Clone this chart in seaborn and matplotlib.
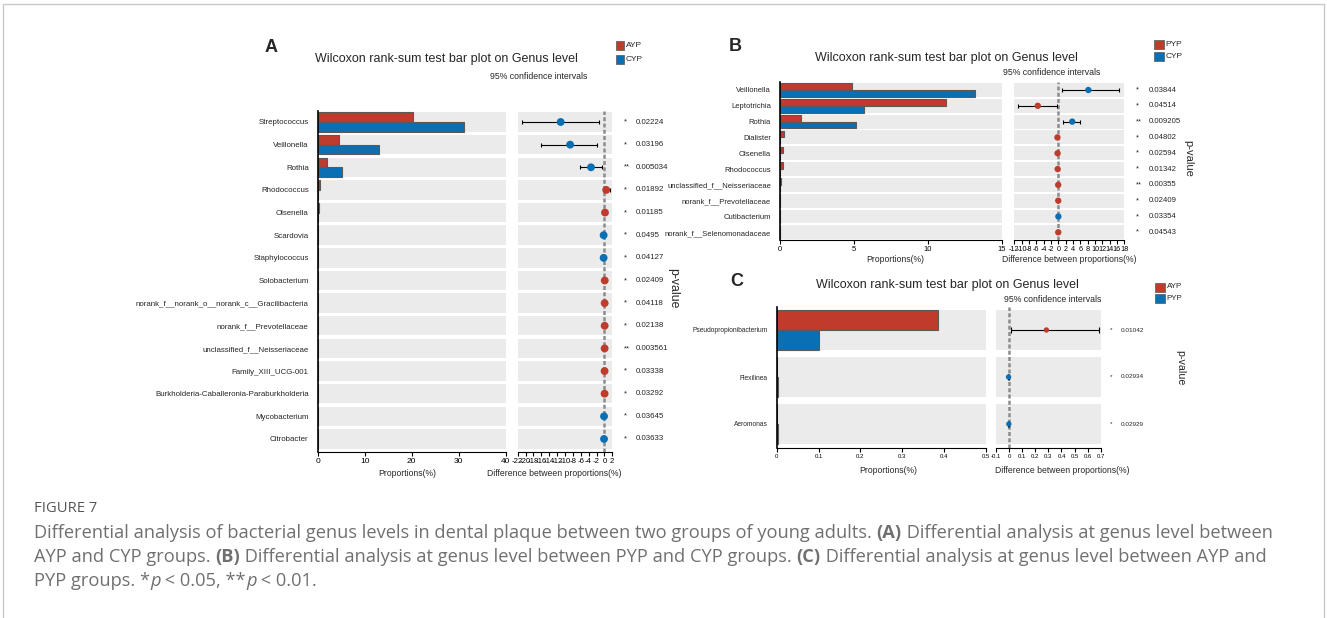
import numpy as np
import pandas as pd
import matplotlib
matplotlib.use("Agg")
import matplotlib.pyplot as plt
import matplotlib.transforms as mtrans
from matplotlib.patches import Rectangle
import seaborn as sns

# ---------------- data ----------------
a_genus = ["Streptococcus", "Veillonella", "Rothia", "Rhodococcus", "Olsenella", "Scardovia",
           "Staphylococcus", "Solobacterium", "norank_f__norank_o__norank_c__Gracilibacteria",
           "norank_f__Prevotellaceae", "unclassified_f__Neisseriaceae", "Family_XIII_UCG-001",
           "Burkholderia-Caballeronia-Paraburkholderia", "Mycobacterium", "Citrobacter"]
a_groups = ["AYP", "CYP"]
a_g1 = [20.2, 4.5, 1.9, 0.5, 0.3, 0.02, 0.02, 0.08, 0.05, 0.06, 0.05, 0.04, 0.04, 0.01, 0.01]
a_g2 = [31.2, 13.1, 5.15, 0.02, 0.05, 0.12, 0.10, 0.02, 0.01, 0.01, 0.01, 0.01, 0.01, 0.05, 0.04]
a_diff = [-11.1, -8.7, -3.4, 0.45, 0.15, -0.2, -0.2, 0.08, 0.06, 0.06, 0.05, 0.04, 0.04, -0.1, -0.1]
a_lo = [-20.8, -16.2, -6.1, -0.2, 0.0, -0.3, -0.3, 0.0, 0.0, 0.0, 0.0, 0.0, 0.0, -0.15, -0.15]
a_hi = [-1.3, -2.0, -0.7, 1.4, 0.3, -0.1, -0.1, 0.15, 0.1, 0.1, 0.1, 0.08, 0.08, -0.05, -0.05]
a_enriched = ["CYP", "CYP", "CYP", "AYP", "AYP", "CYP", "CYP", "AYP", "AYP", "AYP", "AYP", "AYP",
              "AYP", "CYP", "CYP"]
a_p = ["0.02224", "0.03196", "0.005034", "0.01892", "0.01185", "0.0495", "0.04127", "0.02409",
       "0.04118", "0.02138", "0.003561", "0.03338", "0.03292", "0.03645", "0.03633"]
a_star = ["*", "*", "**", "*", "*", "*", "*", "*", "*", "*", "**", "*", "*", "*", "*"]

b_genus = ["Veillonella", "Leptotrichia", "Rothia", "Dialister", "Olsenella", "Rhodococcus",
           "unclassified_f__Neisseriaceae", "norank_f__Prevotellaceae", "Cutibacterium",
           "norank_f__Selenomonadaceae"]
b_groups = ["PYP", "CYP"]
b_g1 = [4.9, 11.2, 1.4, 0.25, 0.22, 0.18, 0.04, 0.03, 0.01, 0.02]
b_g2 = [13.2, 5.7, 5.15, 0.01, 0.01, 0.01, 0.01, 0.01, 0.03, 0.005]
b_diff = [8.2, -5.6, 3.8, -0.24, -0.2, -0.17, -0.03, -0.02, 0.02, -0.015]
b_lo = [1.1, -11.0, 1.4, -0.35, -0.3, -0.25, -0.05, -0.04, 0.0, -0.03]
b_hi = [16.6, -0.3, 6.0, -0.12, -0.1, -0.08, 0.0, 0.0, 0.04, 0.0]
b_enriched = ["CYP", "PYP", "CYP", "PYP", "PYP", "PYP", "PYP", "PYP", "CYP", "PYP"]
b_p = ["0.03844", "0.04514", "0.009205", "0.04802", "0.02594", "0.01342", "0.00355", "0.02409",
       "0.03354", "0.04543"]
b_star = ["*", "*", "**", "*", "*", "*", "**", "*", "*", "*"]

c_genus = ["Pseudopropionibacterium", "Flexilinea", "Aeromonas"]
c_groups = ["AYP", "PYP"]
c_g1 = [0.385, 0.0, 0.0]
c_g2 = [0.1005, 0.004, 0.002]
c_diff = [0.285, -0.004, -0.002]
c_lo = [0.013, -0.008, -0.005]
c_hi = [0.69, 0.0, 0.0]
c_enriched = ["AYP", "PYP", "PYP"]
c_p = ["0.01042", "0.02934", "0.02929"]
c_star = ["*", "*", "*"]

title_text = "Wilcoxon rank-sum test bar plot on Genus level"
ci_text = "95% confidence intervals"

# ---------------- style ----------------
W, H, DPI = 1327, 618, 100
RED, BLUE = "#BF3B2C", "#0B6FB3"
BAND = "#EBEBEB"

sns.set_style("white")
plt.rcParams["font.family"] = ["Liberation Sans", "DejaVu Sans"]

fig = plt.figure(figsize=(W / DPI, H / DPI), dpi=DPI)
PX = mtrans.Affine2D().scale(1 / W, -1 / H).translate(0, 1) + fig.transFigure


def add_ax(x0, y0, x1, y1):
    return fig.add_axes([x0 / W, 1 - y1 / H, (x1 - x0) / W, (y1 - y0) / H])


def ftext(x, y, s, **kw):
    return fig.text(x, y, s, transform=PX, **kw)


def panel(genus, groups, g1, g2, diff, lo, hi, enr, pv, st, L):
    n = len(genus)
    idx = np.arange(n)
    top = (L["y0"] - L["c0"]) / L["dy"]
    bot = (L["y1"] - L["c0"]) / L["dy"]
    pal = {groups[0]: RED, groups[1]: BLUE}

    axb = add_ax(L["bx0"], L["y0"], L["bx1"], L["y1"])
    axd = add_ax(L["dx0"], L["y0"], L["dx1"], L["y1"])

    df = pd.DataFrame({"genus": genus * 2,
                       "group": [groups[0]] * n + [groups[1]] * n,
                       "value": list(g1) + list(g2)})
    sns.barplot(data=df, x="value", y="genus", hue="group", order=genus, hue_order=groups,
                palette=pal, orient="h", width=L["bw"], edgecolor="#5a5a5a", linewidth=0.8,
                errorbar=None, legend=False, ax=axb, zorder=2, saturation=1)
    for ax in (axb, axd):
        for i in idx:
            ax.axhspan(i - L["bh"] / 2, i + L["bh"] / 2, color=BAND, lw=0, zorder=0)
        ax.set_ylim(bot, top)
        ax.set_xlabel("")
        ax.set_ylabel("")
        for s in ("top", "right"):
            ax.spines[s].set_visible(False)
        ax.spines["bottom"].set_color("black")
        ax.spines["bottom"].set_linewidth(0.8)
        ax.tick_params(axis="x", bottom=True, direction="out", length=3, width=0.8,
                       labelsize=L["tfs"], pad=1.5, colors="black")
    axb.spines["left"].set_color("black")
    axb.spines["left"].set_linewidth(1.2)
    axb.tick_params(axis="y", left=False, labelsize=L["lfs"], pad=3)
    axb.set_xlim(0, L["xmax"])
    axb.set_xticks(L["xticks"])
    axb.set_xticklabels(["%g" % t for t in L["xticks"]])

    axd.spines["left"].set_visible(False)
    axd.set_yticks([])
    axd.axvline(0, color="#8C8C8C", lw=1.8, ls=(0, (1.6, 0.9)), zorder=2.5)
    d = np.array(diff)
    axd.errorbar(d, idx, xerr=[d - np.array(lo), np.array(hi) - d], fmt="none",
                 ecolor="black", elinewidth=0.8, capsize=L["cap"], capthick=0.8, zorder=3)
    sns.scatterplot(x=d, y=idx, hue=enr, palette=pal, s=L["ms"], linewidth=0, ax=axd,
                    legend=False, zorder=4)
    axd.set_ylim(bot, top)
    axd.set_xlim(*L["dlim"])
    axd.set_xticks(L["dticks"])
    axd.set_xticklabels(["%g" % round(t, 3) for t in L["dticks"]])
    axd.tick_params(axis="x", labelsize=L["dtfs"])

    for i in idx:
        yy = L["c0"] + L["dy"] * i
        ftext(L["sx"], yy, st[i], fontsize=L["pfs"], va="center", ha="left")
        ftext(L["px"], yy, pv[i], fontsize=L["pfs"], va="center", ha="left")
    ftext(L["pvl"][0], L["pvl"][1], "p-value", fontsize=L["pvfs"], rotation=270,
          va="center", ha="center")
    ftext(L["title"][0], L["title"][1], title_text, fontsize=9, ha="center", va="center")
    ftext(L["ci"][0], L["ci"][1], ci_text, fontsize=6.3, ha="center", va="center")
    ftext(L["letter"][0], L["letter"][1], L["name"], fontsize=13, fontweight="bold",
          ha="center", va="center")
    for g, yc, col in zip(groups, L["leg_y"], (RED, BLUE)):
        fig.patches.append(Rectangle((L["leg_x"][0], yc - 4.5), L["leg_x"][1] - L["leg_x"][0], 9,
                                     transform=PX, facecolor=col, edgecolor="#555555", lw=0.5))
        ftext(L["leg_x"][1] + 1.5, yc, g, fontsize=L["legfs"], va="center", ha="left")
    ftext(L["xl"][0], L["xl"][2], "Proportions(%)", fontsize=6.2, ha="center", va="center")
    ftext(L["xl"][1], L["xl"][2], "Difference between proportions(%)", fontsize=6.2,
          ha="center", va="center")


LA = dict(name="A", bx0=317.7, bx1=505.7, dx0=517.7, dx1=612.3, y0=111, y1=452, c0=122, dy=22.64,
          xmax=40, xticks=[0, 10, 20, 30, 40], dlim=(-22, 2), dticks=list(range(-22, 3, 2)),
          bw=0.86, bh=0.86, ms=32, cap=1.6, lfs=5.7, tfs=6.0, dtfs=5.6, pfs=5.7, sx=624, px=635.7,
          pvl=(673, 288), pvfs=8.8, title=(446, 59), ci=(538.5, 76.7), letter=(271.5, 47),
          leg_x=(616, 624.3), leg_y=(45.5, 59.7), legfs=6, xl=(407, 554, 474))
LB = dict(name="B", bx0=780, bx1=1001.7, dx0=1014.3, dx1=1124.3, y0=81.7, y1=240, c0=90, dy=15.81,
          xmax=15, xticks=[0, 5, 10, 15], dlim=(-12, 18), dticks=list(range(-12, 19, 2)),
          bw=0.85, bh=0.88, ms=21, cap=1.3, lfs=5.5, tfs=5.5, dtfs=5.2, pfs=5.6, sx=1136, px=1148.3,
          pvl=(1188, 158), pvfs=8, title=(946.7, 58.3), ci=(1052, 72.7), letter=(735, 46.7),
          leg_x=(1154.3, 1164.3), leg_y=(44.5, 56.8), legfs=6, xl=(895, 1069, 260))
LC = dict(name="C", bx0=776.7, bx1=985.7, dx0=996, dx1=1100.7, y0=307, y1=448, c0=330, dy=47,
          xmax=0.5, xticks=[0, 0.1, 0.2, 0.3, 0.4, 0.5], dlim=(-0.1, 0.7),
          dticks=[-0.1, 0, 0.1, 0.2, 0.3, 0.4, 0.5, 0.6, 0.7],
          bw=0.84, bh=0.84, ms=15, cap=2.0, lfs=4.8, tfs=4.3, dtfs=4.3, pfs=4.6, sx=1110, px=1120.7,
          pvl=(1180, 368), pvfs=7.7, title=(947.5, 285), ci=(1053, 299), letter=(736.7, 281.7),
          leg_x=(1155, 1165), leg_y=(287, 298), legfs=5.8, xl=(888, 1062, 470.5))

panel(a_genus, a_groups, a_g1, a_g2, a_diff, a_lo, a_hi, a_enriched, a_p, a_star, LA)
panel(b_genus, b_groups, b_g1, b_g2, b_diff, b_lo, b_hi, b_enriched, b_p, b_star, LB)
panel(c_genus, c_groups, c_g1, c_g2, c_diff, c_lo, c_hi, c_enriched, c_p, c_star, LC)

# ---------------- border & caption ----------------
fig.patches.append(Rectangle((3, 4), 1321, 700, transform=PX, fill=False,
                             edgecolor="#C8C8C8", lw=1.0, clip_on=False))

renderer = fig.canvas.get_renderer()
CAP_FONT = ["Open Sans", "DejaVu Sans"]
CAP_COL = "#707070"

cap_lines = [
    [("Differential analysis of bacterial genus levels in dental plaque between two groups of young adults. ", "normal", "normal"),
     ("(A)", "bold", "normal"), (" Differential analysis at genus level between", "normal", "normal")],
    [("AYP and CYP groups. ", "normal", "normal"), ("(B)", "bold", "normal"),
     (" Differential analysis at genus level between PYP and CYP groups. ", "normal", "normal"),
     ("(C)", "bold", "normal"), (" Differential analysis at genus level between AYP and", "normal", "normal")],
    [("PYP groups. *", "normal", "normal"), ("p", "normal", "italic"), (" < 0.05, **", "normal", "normal"),
     ("p", "normal", "italic"), (" < 0.01.", "normal", "normal")],
]
cap_y = [533, 557, 580.5]


def rich(x, y, segs, size, draw=True):
    objs = []
    for s, w, sty in segs:
        t = ftext(x, y, s, fontsize=size, fontweight=w, fontstyle=sty, color=CAP_COL,
                  family=CAP_FONT, va="center", ha="left")
        x += t.get_window_extent(renderer).width
        objs.append(t)
    if not draw:
        for t in objs:
            t.remove()
    return x


end = rich(34, cap_y[0], cap_lines[0], 12, draw=False)
cap_size = 12 * (1233 / (end - 34))
for segs, yy in zip(cap_lines, cap_y):
    rich(34, yy, segs, cap_size)

t = ftext(34, 509, "FIGURE 7", fontsize=9, color="#555555", family=CAP_FONT, va="center", ha="left")
wfig = t.get_window_extent(renderer).width
t.set_fontsize(9 * 63 / wfig)

fig.savefig("out.png", dpi=DPI)
